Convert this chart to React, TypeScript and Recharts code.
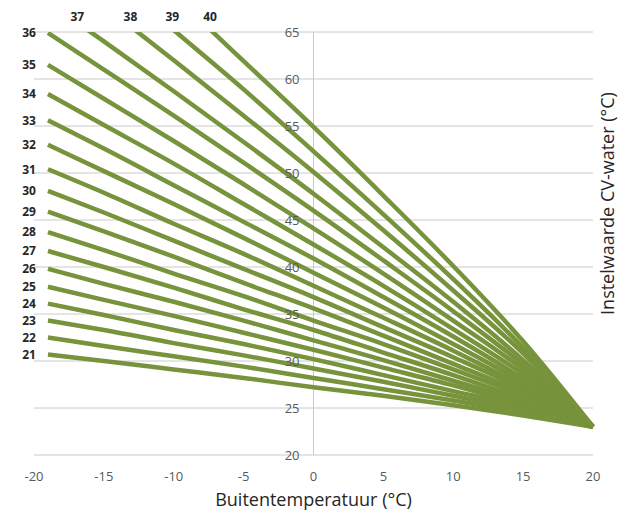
import React from 'react'
import { LineChart, Line, XAxis, YAxis, CartesianGrid, ReferenceLine, ReferenceDot, Label } from 'recharts'

// buitentemperatuur (x) en stooklijnen 21..40 (aflezing uit de grafiek)
const temps = [-19, -15, -10, -5, 0, 5, 10, 15, 20]
const curve21 = [30.7, 30.0, 29.1, 28.2, 27.2, 26.3, 25.3, 24.2, 23]
const curve22 = [32.5, 31.6, 30.5, 29.4, 28.2, 27.0, 25.8, 24.5, 23]
const curve23 = [34.3, 33.3, 31.9, 30.6, 29.2, 27.8, 26.3, 24.8, 23]
const curve24 = [36.1, 34.9, 33.3, 31.8, 30.2, 28.5, 26.8, 25.1, 23]
const curve25 = [37.9, 36.5, 34.8, 33.0, 31.2, 29.3, 27.4, 25.3, 23]
const curve26 = [39.8, 38.2, 36.3, 34.3, 32.2, 30.1, 27.9, 25.6, 23]
const curve27 = [41.7, 40.0, 37.8, 35.5, 33.3, 30.9, 28.5, 25.9, 23]
const curve28 = [43.7, 41.8, 39.3, 36.9, 34.3, 31.8, 29.1, 26.3, 23]
const curve29 = [45.9, 43.8, 41.1, 38.3, 35.6, 32.7, 29.7, 26.6, 23]
const curve30 = [48.1, 45.8, 42.8, 39.8, 36.8, 33.6, 30.4, 27.0, 23]
const curve31 = [50.4, 47.9, 44.6, 41.4, 38.0, 34.6, 31.1, 27.3, 23]
const curve32 = [53.0, 50.2, 46.7, 43.1, 39.4, 35.7, 31.8, 27.7, 23]
const curve33 = [55.6, 52.6, 48.7, 44.8, 40.9, 36.8, 32.6, 28.1, 23]
const curve34 = [58.4, 55.1, 51.0, 46.7, 42.4, 38.0, 33.4, 28.6, 23]
const curve35 = [61.5, 57.9, 53.4, 48.8, 44.1, 39.3, 34.3, 29.1, 23]
const curve36 = [64.9, 61.0, 56.1, 51.1, 46.0, 40.7, 35.3, 29.6, 23]
const curve37 = [68.2, 64.0, 58.7, 53.3, 47.8, 42.1, 36.3, 30.1, 23]
const curve38 = [72.4, 67.8, 62.0, 56.1, 50.1, 43.9, 37.5, 30.8, 23]
const curve39 = [76.5, 71.5, 65.2, 58.9, 52.3, 45.6, 38.7, 31.4, 23]
const curve40 = [81.1, 75.7, 68.9, 61.9, 54.9, 47.6, 40.1, 32.1, 23]

const curveLabels = ['21', '22', '23', '24', '25', '26', '27', '28', '29', '30',
  '31', '32', '33', '34', '35', '36', '37', '38', '39', '40']
const curves = [curve21, curve22, curve23, curve24, curve25, curve26, curve27, curve28, curve29, curve30,
  curve31, curve32, curve33, curve34, curve35, curve36, curve37, curve38, curve39, curve40]

// labels 37..40 staan boven de grafiek, op deze temperaturen
const topLabelTemps = [-16.9, -13.1, -10.1, -7.4]

const xTicks = [-20, -15, -10, -5, 0, 5, 10, 15, 20]
const yTicks = [20, 25, 30, 35, 40, 45, 50, 55, 60, 65]

const W = 629
const H = 512
const margin = { top: 32, right: 0, bottom: 0, left: 34 }
const Y_AXIS_W = 36
const X_AXIS_H = 57
const zeroX = margin.left + (W - margin.left - margin.right - Y_AXIS_W) / 2

const green = '#77933C'
const grid = '#cacaca'
const tickColor = '#595959'

const data = temps.map((t, i) => {
  const row: Record<string, number> = { t }
  curves.forEach((c, j) => { row['c' + curveLabels[j]] = c[i] })
  return row
})

const renderYTick = (props: any) => {
  const { y, payload } = props
  return (
    <text x={zeroX - 14} y={y} dy="0.35em" textAnchor="end" fill={tickColor} fontSize={13}>
      {payload.value}
    </text>
  )
}

const YTitle = (props: any) => {
  const { x, y, width, height } = props.viewBox
  const cx = x + width / 2 - 4
  const cy = y + height / 2 - 40
  return (
    <text x={cx} y={cy} transform={`rotate(-90, ${cx}, ${cy})`} textAnchor="middle"
      dominantBaseline="central" fill="#262626" fontSize={18}>
      Instelwaarde CV-water (°C)
    </text>
  )
}

const labelStyle = { fill: '#262626', fontSize: 12, fontWeight: 'bold' }

export default function App() {
  return (
    <div style={{ position: 'absolute', left: 0, top: 0, fontFamily: '"Open Sans", sans-serif', background: '#fff' }}>
      <LineChart width={W} height={H} data={data} margin={margin}>
        <CartesianGrid horizontal vertical={false} stroke={grid} />
        <XAxis
          dataKey="t"
          type="number"
          domain={[-20, 20]}
          ticks={xTicks}
          axisLine={false}
          tickLine={false}
          tickMargin={11}
          height={X_AXIS_H}
          tick={{ fill: tickColor, fontSize: 13 }}
        >
          <Label value="Buitentemperatuur (°C)" position="insideBottom" offset={6} fill="#262626" fontSize={18} />
        </XAxis>
        <YAxis
          orientation="right"
          type="number"
          domain={[20, 65]}
          ticks={yTicks}
          allowDataOverflow
          axisLine={false}
          tickLine={false}
          width={Y_AXIS_W}
          tick={renderYTick}
        >
          <Label content={YTitle} />
        </YAxis>
        <ReferenceLine x={0} stroke={grid} />
        {curveLabels.map((lab) => (
          <Line
            key={lab}
            dataKey={'c' + lab}
            type="monotone"
            stroke={green}
            strokeWidth={4.5}
            dot={false}
            activeDot={false}
            isAnimationActive={false}
          />
        ))}
        {curveLabels.slice(0, 16).map((lab, j) => (
          <ReferenceDot
            key={'l' + lab}
            x={temps[0]}
            y={curves[j][0]}
            r={0}
            stroke="none"
            fill="none"
            label={{ value: lab, position: 'left', offset: 12, ...labelStyle }}
          />
        ))}
        {curveLabels.slice(16).map((lab, j) => (
          <ReferenceDot
            key={'t' + lab}
            x={topLabelTemps[j]}
            y={65}
            r={0}
            stroke="none"
            fill="none"
            label={{ value: lab, position: 'top', offset: 11, ...labelStyle }}
          />
        ))}
      </LineChart>
    </div>
  )
}
